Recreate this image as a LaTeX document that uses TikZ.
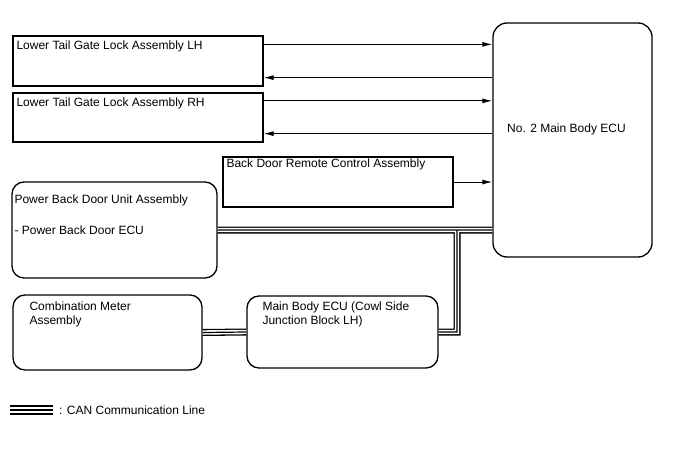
\documentclass[tikz,border=0pt]{standalone}
\usepackage{fontspec}
\setmainfont{Liberation Sans}
\usetikzlibrary{arrows.meta}

\begin{document}
\begin{tikzpicture}[
    x=1pt, y=-1pt,
    every node/.style={font=\fontsize{12}{14}\selectfont, inner sep=0pt},
    unitbox/.style={draw, line width=1.3pt},
    roundbox/.style={unitbox, rounded corners=12pt},
    label text/.style={anchor=base west, align=left},
    signal/.style={draw, line width=1pt, -{Latex[length=10pt,width=5pt]}},
    can/.style={draw, line width=7pt,
        postaction={draw=white, line width=4.4pt},
        postaction={draw=black, line width=1.2pt}},
    can legend/.style={draw, line width=10pt,
        postaction={draw=white, line width=6pt},
        postaction={draw=black, line width=2pt}}
]
    \useasboundingbox (0,0) rectangle (688,463);

    % units
    \node[unitbox, minimum width=250pt, minimum height=50pt] (lh) at (138,61) {};
    \node[unitbox, minimum width=250pt, minimum height=49pt] (rh) at (138,117.5) {};
    \node[unitbox, minimum width=230pt, minimum height=50pt] (bdr) at (338,182) {};
    \node[roundbox, rounded corners=14pt, minimum width=159pt, minimum height=234pt] (ecu) at (572.5,140) {};
    \node[roundbox, minimum width=205pt, minimum height=96pt] (pbd) at (114.5,230) {};
    \node[roundbox, minimum width=189pt, minimum height=75pt] (meter) at (107.5,332.5) {};
    \node[roundbox, minimum width=191pt, minimum height=72pt] (mbecu) at (342.5,332) {};

    % texts
    \node[label text] (lhtxt) at ([shift={(4pt,-14pt)}]lh.north west) {Lower Tail Gate Lock Assembly LH};
    \node[label text] (rhtxt) at ([shift={(4pt,-14pt)}]rh.north west) {Lower Tail Gate Lock Assembly RH};
    \node[label text] (bdrtxt) at ([shift={(4pt,-11pt)}]bdr.north west) {Back Door Remote Control Assembly};
    \node[label text] (ecutxt) at (507,132) {No. 2 Main Body ECU};
    \node[label text] (pbdtxt) at ([shift={(3pt,-21.7pt)}]pbd.north west) {Power Back Door Unit Assembly};
    \node[label text] (pbdsub) at ([shift={(3pt,-53.3pt)}]pbd.north west) {- Power Back Door ECU};
    % two-line texts sit on their last line
    \node[label text] (metertxt) at ([shift={(17pt,-30pt)}]meter.north west) {Combination Meter\\Assembly};
    \node[label text] (mbtxt) at ([shift={(16pt,-29pt)}]mbecu.north west) {Main Body ECU (Cowl Side\\Junction Block LH)};

    % signal lines
    \draw[signal] ([yshift=-9pt]lh.north east) -- ([yshift=-9pt]lh.north east -| ecu.west);
    \draw[signal] ([yshift=9pt]lh.south east -| ecu.west) -- ([yshift=9pt]lh.south east);
    \draw[signal] ([yshift=-8.5pt]rh.north east) -- ([yshift=-8.5pt]rh.north east -| ecu.west);
    \draw[signal] ([yshift=9pt]rh.south east -| ecu.west) -- ([yshift=9pt]rh.south east);
    \draw[signal] (bdr.east) -- (bdr.east -| ecu.west);

    % CAN bus
    \coordinate (tee) at (457,230);
    \draw[can] (pbd.east) -- (pbd.east -| ecu.west)
        (meter.east) -- (mbecu.west)
        (mbecu.east) -| (tee);

    % legend
    \coordinate (legA) at (10,410);
    \coordinate (legB) at (53,410);
    \draw[can legend] (legA) -- (legB);
    \node[label text] (legtxt) at (59,414) {: CAN Communication Line};
\end{tikzpicture}
\end{document}
